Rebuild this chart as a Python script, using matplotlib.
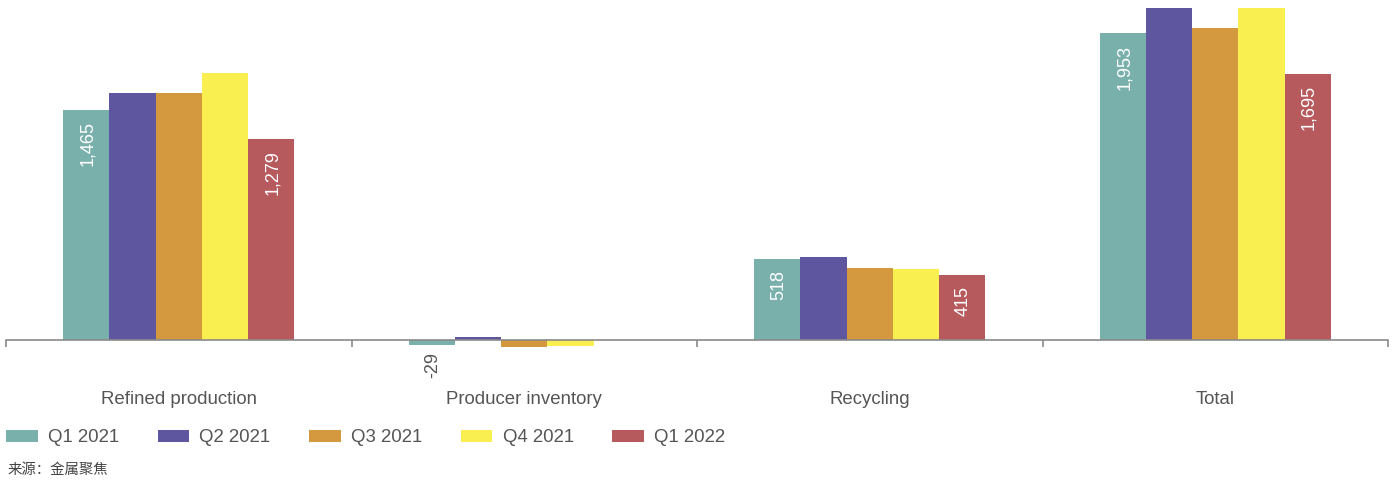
import numpy as np
import matplotlib
matplotlib.use("Agg")
import matplotlib.pyplot as plt
from matplotlib.patches import Patch

categories = ["Refined production", "Producer inventory", "Recycling", "Total"]
series = ["Q1 2021", "Q2 2021", "Q3 2021", "Q4 2021", "Q1 2022"]
q1_2021 = [1465, -29, 518, 1953]
q2_2021 = [1573, 17, 529, 2115]
q3_2021 = [1573, -45, 459, 1987]
q4_2021 = [1701, -36, 452, 2115]
q1_2022 = [1279, np.nan, 415, 1695]
values = [q1_2021, q2_2021, q3_2021, q4_2021, q1_2022]
labelled = [True, False, False, False, True]
colors = ["#7AB0AB", "#5E579F", "#D4993E", "#F9EF50", "#B75A5E"]

plt.rcParams['font.family'] = ['Liberation Sans', 'DejaVu Sans']
fig = plt.figure(figsize=(13.98, 4.82), dpi=100)
H = 482.0
ax = fig.add_axes([6 / 1398, (H - 360) / H, (1388 - 6) / 1398, 360 / H])

x = np.arange(len(categories))
n = len(series)
group = 0.669
w = group / n
for i, (s, vals, c) in enumerate(zip(series, values, colors)):
    pos = x - group / 2 + w * (i + 0.5)
    ax.bar(pos, vals, width=w, color=c, label=s)
    if labelled[i]:
        for xp, v in zip(pos, vals):
            if np.isnan(v):
                continue
            txt = f"{v:,.0f}"
            if v >= 0:
                ax.annotate(txt, (xp, v), xytext=(1, -8), textcoords="offset points",
                            rotation=90, ha="center", va="top", color="white", fontsize=13)
            else:
                ax.annotate(txt, (xp, v), xytext=(1, -5), textcoords="offset points",
                            rotation=90, ha="center", va="top", color="#555555", fontsize=13)

ax.set_xlim(-0.5, 3.5)
ax.set_ylim(-127, 2166)
for sp in ["top", "left", "right"]:
    ax.spines[sp].set_visible(False)
ax.spines["bottom"].set_position(("data", 0))
ax.spines["bottom"].set_color("#8a8a8a")
ax.spines["bottom"].set_linewidth(1.2)
ax.set_yticks([])
ax.set_xticks([-0.5, 0.5, 1.5, 2.5, 3.5])
ax.set_xticklabels([])
ax.tick_params(axis="x", length=5, width=1.2, color="#8a8a8a")

for xi, cat in zip(x, categories):
    xf = (6 + (xi + 0.5) * 345.5) / 1398
    fig.text(xf, (H - 400) / H, cat, ha="center", va="center", fontsize=13.4, color="#555555")

handles = [Patch(facecolor=c, edgecolor="none") for c in colors]
fig.legend(handles, series, loc="center left", bbox_to_anchor=(6 / 1398, (H - 438) / H),
           ncol=5, frameon=False, fontsize=13.4, handlelength=1.7, handleheight=0.55,
           handletextpad=0.55, columnspacing=2.07, borderaxespad=0, borderpad=0,
           labelcolor="#555555")

fig.text(8 / 1398, (H - 470) / H, "来源：金属聚焦", ha="left", va="center", fontsize=10.4,
         color="#444444", family=["Noto Sans CJK SC", "DejaVu Sans"])

fig.savefig("out.png", dpi=100, facecolor="white")
